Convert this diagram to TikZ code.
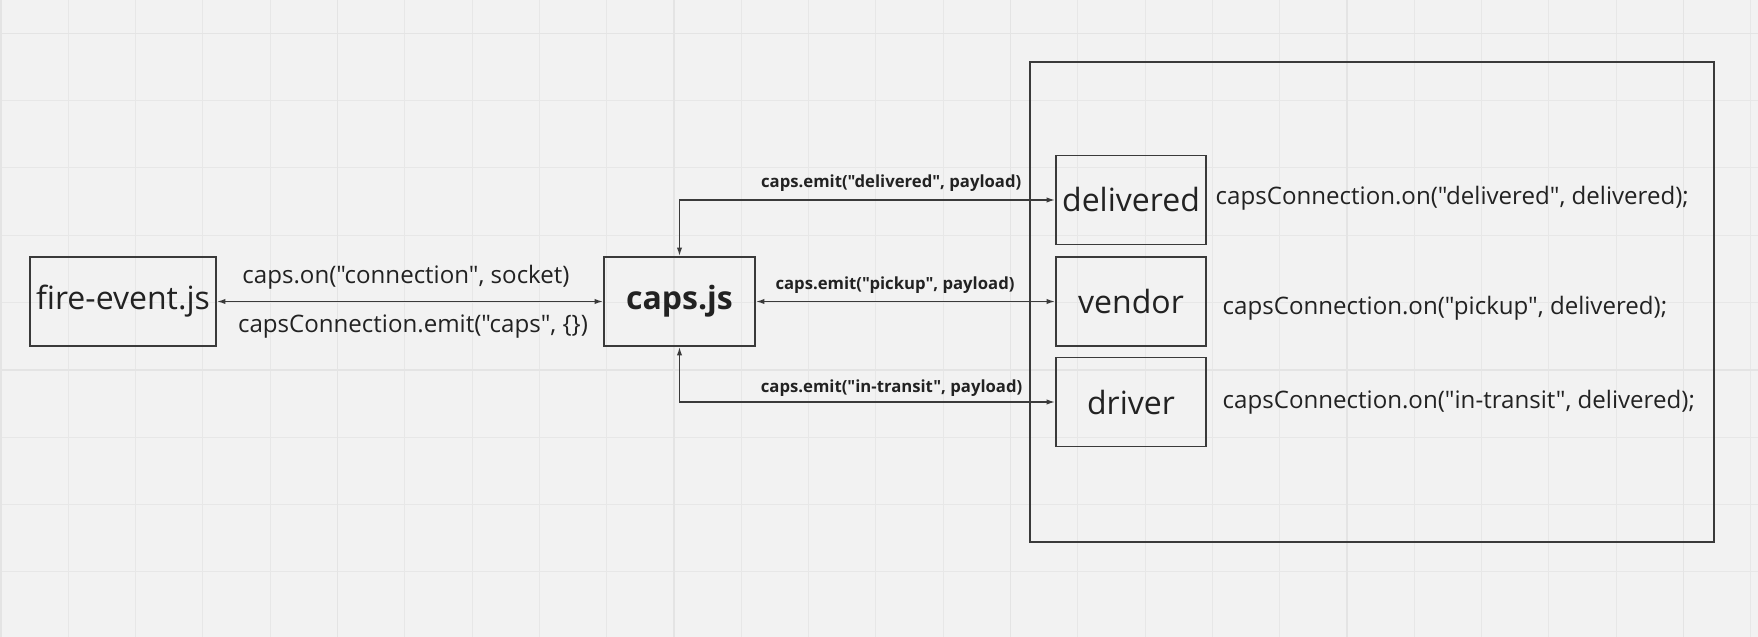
\documentclass[tikz,border=0pt]{standalone}
\usepackage{fontspec}
\setmainfont{Open Sans}[Ligatures=TeXOff]
\usepackage{tikz}
\usetikzlibrary{arrows.meta, positioning}

\definecolor{bgcol}{HTML}{F2F2F2}
\definecolor{gridcol}{HTML}{E7E7E7}
\definecolor{gridmaj}{HTML}{E4E4E4}
\definecolor{inkcol}{HTML}{222222}
\definecolor{linecol}{HTML}{3A3A3A}

\begin{document}
\begin{tikzpicture}[x=0.01cm, y=-0.01cm, text=inkcol,
    font=\fontsize{9.1}{11}\selectfont,
    box/.style={draw=linecol, line width=0.5pt, rectangle, minimum width=1.5cm, minimum height=0.89cm, inner sep=0pt},
    lbl/.style={font=\fontsize{6.85}{8}\selectfont, inner sep=0pt},
    tag/.style={font=\fontsize{4.75}{6}\selectfont\bfseries, inner sep=0pt},
    conn/.style={{Latex[length=2.4pt,width=1.5pt]}-{Latex[length=2.4pt,width=1.5pt]}, draw=linecol, line width=0.4pt}]
    \useasboundingbox (0,0) rectangle (1758,637);
    % 背景网格
    \fill[bgcol] (0,0) rectangle (1758,637);
    \foreach \i in {0,...,26} {
        \draw[gridcol, line width=0.3pt] (1+67.3*\i,0) -- (1+67.3*\i,637);
    }
    \foreach \j in {0,...,8} {
        \draw[gridcol, line width=0.3pt] (0,33.3+67.3*\j) -- (1758,33.3+67.3*\j);
    }
    \foreach \i in {0,5,...,25} {
        \draw[gridmaj, line width=0.4pt] (1+67.3*\i,0) -- (1+67.3*\i,637);
    }
    \foreach \j in {0,5} {
        \draw[gridmaj, line width=0.4pt] (0,33.3+67.3*\j) -- (1758,33.3+67.3*\j);
    }

    % 左侧
    \node[box, minimum width=1.86cm] (fire) at (123,301.5) {fire-event.js};
    \node[box, minimum width=1.51cm, font=\fontsize{9.1}{11}\selectfont\bfseries] (caps) at (679.5,301.5) {caps.js};

    % 右侧分组
    \node[draw=linecol, line width=0.5pt, minimum width=6.84cm, minimum height=4.8cm] (group) at (1372,302) {};
    \node[box] (delivered) at (1131,200) {delivered};
    \node[box] (vendor) at (1131,301.5) {vendor};
    \node[box] (driver) at (1131,402) {driver};

    % 连线
    \draw[conn] (fire.east) -- (caps.west);
    \draw[conn] (caps.east) -- (vendor.west);
    \draw[conn] (caps.north) |- (delivered.west);
    \draw[conn] (caps.south) |- (driver.west);

    % 标签
    \node[lbl] (onlbl) at (406,277.5) {caps.on("connection", socket)};
    \node[lbl] (emitlbl) at (413,326.5) {capsConnection.emit("caps", \{\})};
    \node[tag, anchor=east] (delivtag) at (1022,183.5) {caps.emit("delivered", payload)};
    \node[tag] (picktag) at (895,285) {caps.emit("pickup", payload)};
    \node[tag, anchor=east] (transtag) at (1023,388.5) {caps.emit("in-transit", payload)};
    \node[lbl, anchor=west] (delivon) at (1215,198.5) {capsConnection.on("delivered", delivered);};
    \node[lbl, anchor=west] (pickon) at (1222,308.5) {capsConnection.on("pickup", delivered);};
    \node[lbl, anchor=west] (transon) at (1222,402.5) {capsConnection.on("in-transit", delivered);};
\end{tikzpicture}
\end{document}
